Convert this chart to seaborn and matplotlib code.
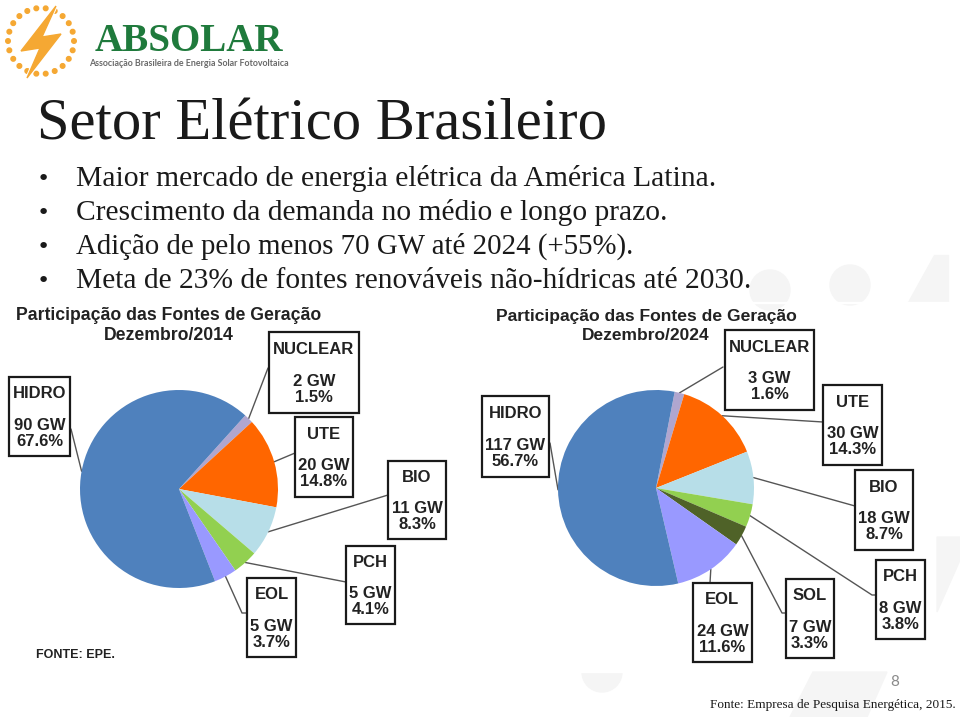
import numpy as np
import matplotlib
matplotlib.use("Agg")
import matplotlib.pyplot as plt
import seaborn as sns
from matplotlib.patches import Rectangle, Polygon, Circle

# ---------------- data ----------------
sources_2014 = ["NUCLEAR", "UTE", "BIO", "PCH", "EOL", "HIDRO"]
gw_2014 = [2, 20, 11, 5, 5, 90]
pct_2014 = [1.5, 14.8, 8.3, 4.1, 3.7, 67.6]

sources_2024 = ["NUCLEAR", "UTE", "BIO", "PCH", "SOL", "EOL", "HIDRO"]
gw_2024 = [3, 30, 18, 8, 7, 24, 117]
pct_2024 = [1.6, 14.3, 8.7, 3.8, 3.3, 11.6, 56.7]

bullets = [
    "Maior mercado de energia elétrica da América Latina.",
    "Crescimento da demanda no médio e longo prazo.",
    "Adição de pelo menos 70 GW até 2024 (+55%).",
    "Meta de 23% de fontes renováveis não-hídricas até 2030.",
]

palette = {
    "HIDRO": "#4f81bd", "NUCLEAR": "#b0a6cf", "UTE": "#ff6600",
    "BIO": "#b7dee8", "PCH": "#92d050", "EOL": "#9999ff", "SOL": "#4f6228",
}

sns.set_theme(style="white")
plt.rcParams["font.family"] = ["Liberation Sans", "DejaVu Sans"]

W, H = 960, 717
fig = plt.figure(figsize=(W / 100, H / 100), dpi=100)
fig.patch.set_facecolor("white")
bg = fig.add_axes([0, 0, 1, 1])
bg.set_xlim(0, W)
bg.set_ylim(H, 0)
bg.axis("off")
renderer = fig.canvas.get_renderer()


def fit_text(x, y, s, width, **kw):
    t = bg.text(x, y, s, **kw)
    w = t.get_window_extent(renderer).width
    t.set_fontsize(t.get_fontsize() * width / w)
    return t


# ---------------- faint background decorations ----------------
deco = "#f5f5f5"
bg.add_patch(Circle((770, 290), 20, color=deco, zorder=0))
bg.add_patch(Circle((850, 285), 20, color=deco, zorder=0))
bg.add_patch(Polygon([(934, 255), (948, 255), (948, 302), (908, 302)], color=deco, zorder=0))
bg.add_patch(Rectangle((720, 302), 240, 1, color="white", zorder=0.5))
bg.add_patch(Polygon([(937, 537), (960, 537), (960, 560), (937, 612)], color=deco, zorder=0))
bg.add_patch(Circle((602, 672), 20, color=deco, zorder=0))
bg.add_patch(Rectangle((570, 640), 70, 32, color="white", zorder=0.5))
bg.add_patch(Polygon([(813, 672), (887, 672), (867, 717), (790, 717)], color=deco, zorder=0))

# ---------------- logo ----------------
orange = "#f5a833"
lc = (41, 41)
for a in np.linspace(0, 2 * np.pi, 22, endpoint=False):
    bg.add_patch(Circle((lc[0] + 33 * np.cos(a), lc[1] + 33 * np.sin(a)), 2.3,
                        color=orange, zorder=2))
bolt = [(56, 6), (21, 51), (40, 48), (27, 78), (61, 34), (42, 37)]
bg.add_patch(Polygon(bolt, closed=True, color=orange, zorder=3))
bg.add_patch(Polygon(bolt, closed=True, fill=False, ec="white", lw=2.5, zorder=2.5))
fit_text(95, 51, "ABSOLAR", 188, family="Liberation Serif", fontweight="bold",
         fontsize=28, color="#1f7a3c", va="baseline", ha="left")
fit_text(89, 64, "Associação Brasileira de Energia Solar Fotovoltaica", 201,
         family="Lato", fontweight="bold", fontsize=6, color="#6a6a6a",
         va="center", ha="left")

# ---------------- slide title & bullets ----------------
fit_text(37, 140, "Setor Elétrico Brasileiro", 570, family="Liberation Serif",
         fontsize=42, color="#1a1a1a", va="baseline", ha="left")
bullet_widths = [641, 592, 558, 676]
for i, (txt, wd) in enumerate(zip(bullets, bullet_widths)):
    yb = 186 + 34 * i
    bg.text(43, yb - 1, "•", family="DejaVu Sans", fontsize=16, color="#1a1a1a",
            va="baseline", ha="center")
    fit_text(76, yb, txt, wd, family="Liberation Serif", fontsize=20,
             color="#1a1a1a", va="baseline", ha="left")

# ---------------- pie charts ----------------
def draw_pie(cx, cy, r, names, gws, pcts, start, title_x, title_w, date_w, year,
             boxes):
    pax = fig.add_axes([(cx - r) / W, 1 - (cy + r) / H, 2 * r / W, 2 * r / H])
    wedges, _ = pax.pie(pcts, colors=[palette[n] for n in names], startangle=start,
                        counterclock=False, radius=1,
                        wedgeprops=dict(linewidth=0))
    pax.set_xlim(-1, 1)
    pax.set_ylim(-1, 1)
    pax.set_zorder(3)
    inv = bg.transData.inverted()
    for w, n, g, p in zip(wedges, names, gws, pcts):
        mid = np.deg2rad((w.theta1 + w.theta2) / 2)
        px, py = inv.transform(pax.transData.transform((np.cos(mid), np.sin(mid))))
        (x0, y0, x1, y1), attach, elbow = boxes[n]
        pts = [(px, py)]
        if elbow is not None:
            pts.append(elbow)
        pts.append(attach)
        xs, ys = zip(*pts)
        bg.plot(xs, ys, color="#555555", lw=1.0, zorder=2)
        bg.add_patch(Rectangle((x0, y0), x1 - x0, y1 - y0, fill=True, fc="white",
                               ec="#1a1a1a", lw=1.6, zorder=4))
        bg.text((x0 + x1) / 2, (y0 + y1) / 2 + 1, f"{n}\n\n{g} GW\n{p:.1f}%",
                ha="center", va="center", multialignment="center",
                fontsize=12, fontweight="bold", color="#222222",
                linespacing=1.08, zorder=5)
    fit_text(title_x, 316, "Participação das Fontes de Geração", title_w,
             fontsize=11.5, fontweight="bold", color="#222222", ha="center",
             va="center")
    fit_text(title_x, 336, f"Dezembro/{year}", date_w, fontsize=11.5,
             fontweight="bold", color="#222222", ha="center", va="center")


boxes_2014 = {
    "HIDRO": ((9, 377, 70, 456), (71, 429), None),
    "NUCLEAR": ((269, 332, 359, 413), (268, 368), None),
    "UTE": ((295, 417, 353, 497), (295, 453), None),
    "BIO": ((388, 461, 446, 539), (388, 495), None),
    "PCH": ((346, 546, 395, 624), (346, 582), None),
    "EOL": ((247, 578, 296, 657), (247, 613), (242, 613)),
}
draw_pie(179, 489, 99, sources_2014, gw_2014, pct_2014, 48, 169, 306, 130, 2014,
         boxes_2014)

boxes_2024 = {
    "HIDRO": ((482, 396, 549, 477), (550, 443), None),
    "NUCLEAR": ((725, 330, 814, 410), (723, 367), None),
    "UTE": ((823, 385, 882, 465), (823, 422), None),
    "BIO": ((855, 470, 913, 550), (855, 506), None),
    "PCH": ((876, 560, 925, 639), (876, 595), (872, 595)),
    "SOL": ((786, 579, 834, 658), (786, 613), (782, 613)),
    "EOL": ((693, 583, 752, 662), (710, 583), None),
}
draw_pie(656, 488, 98, sources_2024, gw_2024, pct_2024, 79, 646, 303, 128, 2024,
         boxes_2024)

fit_text(36, 655, "FONTE: EPE.", 79, fontsize=9, fontweight="bold", color="#222222",
         ha="left", va="center")

# ---------------- footer ----------------
bg.text(895, 682, "8", family="Lato", fontsize=11, color="#8a8a8a",
        ha="center", va="center")
fit_text(710, 705, "Fonte: Empresa de Pesquisa Energética, 2015.", 245,
         family="Liberation Serif", fontsize=9, color="#1a1a1a", ha="left",
         va="center")

fig.savefig("out.png", dpi=100, facecolor="white")
